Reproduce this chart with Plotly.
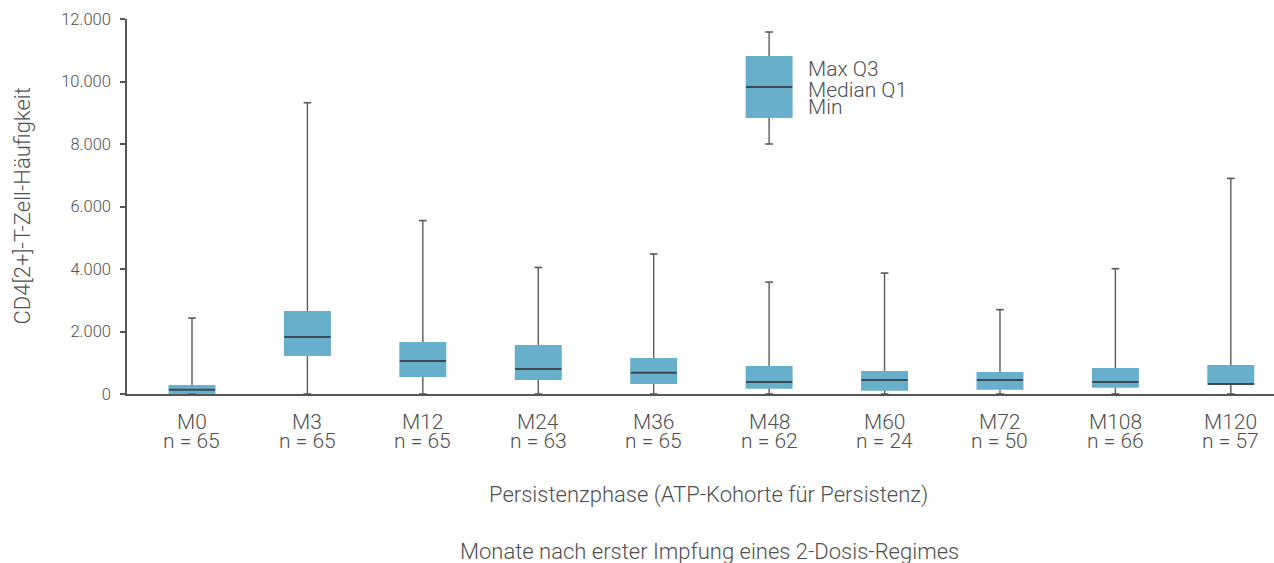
import plotly.graph_objects as go

# Time points and cohort sizes
phases = ["M0", "M3", "M12", "M24", "M36", "M48", "M60", "M72", "M108", "M120"]
n_counts = [65, 65, 65, 63, 65, 62, 24, 50, 66, 57]

# Five-number summaries per time point
v_min = [0, 0, 0, 0, 0, 0, 0, 0, 0, 0]
v_q1 = [0, 1216, 544, 448, 320, 170, 107, 139, 203, 300]
v_median = [140, 1824, 1056, 800, 683, 384, 448, 448, 384, 320]
v_q3 = [290, 2656, 1664, 1568, 1152, 896, 736, 704, 832, 928]
v_max = [2430, 9320, 5550, 4050, 4480, 3580, 3870, 2700, 4010, 6900]

# Key box (explains the five-number summary), drawn at the M48 slot
key_slot = 5
key_min, key_q1, key_median, key_q3, key_max = 8000, 8832, 9824, 10816, 11584
key_labels = ["Max Q3", "Median Q1", "Min"]

y_ticks = [0, 2000, 4000, 6000, 8000, 10000, 12000]

BOX_FILL = "#68AFCC"
WHISKER = "#5a5a5a"
MEDIAN = "#3b4a50"
TEXT = "#505050"
FONT = "Roboto"
BOX_W = 0.407

xs = list(range(len(phases)))


def add_boxes(fig, pos, mn, q1, med, q3, mx):
    fig.add_trace(go.Box(
        x=pos, q1=q1, median=med, q3=q3, lowerfence=mn, upperfence=mx,
        width=BOX_W, fillcolor=BOX_FILL, line=dict(width=0),
        boxpoints=False, hoverinfo="skip", showlegend=False,
    ))
    wx, wy = [], []
    for p, a, b, c, d in zip(pos, mn, q1, q3, mx):
        wx += [p, p, None, p, p, None]
        wy += [c, d, None, a, b, None]
    fig.add_trace(go.Scatter(
        x=wx, y=wy, mode="lines", line=dict(color=WHISKER, width=1.4),
        hoverinfo="skip", showlegend=False,
    ))
    fig.add_trace(go.Scatter(
        x=list(pos) + list(pos), y=list(mx) + list(mn), mode="markers",
        marker=dict(symbol="line-ew", size=5.5,
                    line=dict(color=WHISKER, width=1.6)),
        hoverinfo="skip", showlegend=False,
    ))
    fig.add_trace(go.Scatter(
        x=pos, y=med, mode="markers",
        marker=dict(symbol="line-ew", size=33,
                    line=dict(color=MEDIAN, width=2)),
        hoverinfo="skip", showlegend=False,
    ))


def light(size):
    return dict(family=FONT, size=size, color=TEXT, weight=300)


fig = go.Figure()
add_boxes(fig, xs, v_min, v_q1, v_median, v_q3, v_max)
add_boxes(fig, [key_slot], [key_min], [key_q1], [key_median], [key_q3], [key_max])

annotations = []
# Two tightly stacked label lines under each box: phase name and cohort size
for i, (ph, n) in enumerate(zip(phases, n_counts)):
    for txt, dy in ((ph, -27.5), (f"n = {n}", -46.5)):
        annotations.append(dict(
            x=i, xref="x", y=0, yref="paper", text=txt, showarrow=False,
            xanchor="center", yanchor="middle", yshift=dy, height=18,
            font=light(21),
        ))

# Key labels next to the key box
for lab, dy in zip(key_labels, [-49, -70, -87.5]):
    annotations.append(dict(
        x=key_slot, xref="x", y=1, yref="paper", text=lab, showarrow=False,
        xanchor="left", yanchor="middle", xshift=37, yshift=dy, height=17,
        font=light(21),
    ))

annotations.append(dict(
    x=0, xref="paper", y=0.5, yref="paper", text="CD4[2+]-T-Zell-Häufigkeit",
    showarrow=False, textangle=-90, xanchor="center", yanchor="middle",
    xshift=-105, font=light(22),
))
annotations.append(dict(
    x=0.5, xref="paper", y=0, yref="paper",
    text="Persistenzphase (ATP-Kohorte für Persistenz)",
    showarrow=False, xanchor="center", yanchor="middle",
    xshift=8, yshift=-101, font=light(22),
))
annotations.append(dict(
    x=0.5, xref="paper", y=0, yref="paper",
    text="Monate nach erster Impfung eines 2-Dosis-Regimes",
    showarrow=False, xanchor="center", yanchor="middle",
    xshift=9, yshift=-157, font=light(22),
))

fig.update_layout(
    width=1274, height=563,
    margin=dict(l=127, r=0, t=19, b=169),
    paper_bgcolor="white", plot_bgcolor="white",
    separators=",.",
    showlegend=False,
    annotations=annotations,
    xaxis=dict(
        range=[-0.563, 9.374], showgrid=False, zeroline=False,
        showline=True, linecolor="#555555", linewidth=1.5,
        showticklabels=False, ticks="",
    ),
    yaxis=dict(
        range=[0, 12000], tickvals=y_ticks, tickformat=",",
        showgrid=False, zeroline=False,
        showline=True, linecolor="#555555", linewidth=1.5,
        ticks="outside", ticklen=5, tickwidth=1.5, tickcolor="#555555",
        ticklabelstandoff=6,
        tickfont=light(16.5),
    ),
)

fig.write_html("out.html")
